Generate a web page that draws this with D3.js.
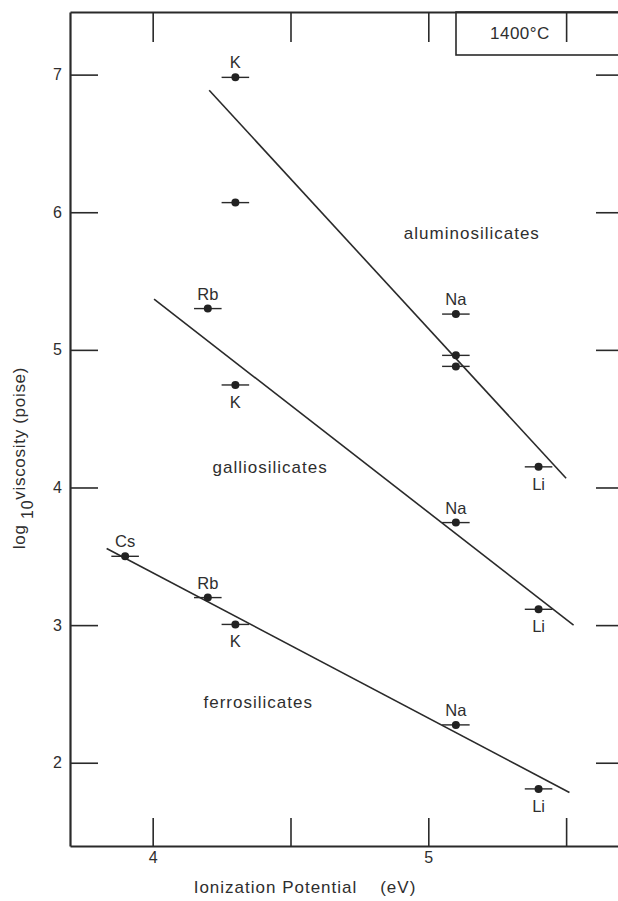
<!DOCTYPE html>
<html>
<head>
  <script src="https://d3js.org/d3.v7.min.js"></script>
  <style>
    body {
      margin: 0;
      background-color: #ffffff;
      overflow: hidden;
    }
    text {
      font-family: "Liberation Sans", Arial, Helvetica, sans-serif;
      fill: #2e2e2e;
    }
  </style>
</head>
<body>
  <script>
    // aluminosilicates
    const alX = [4.3, 4.3, 5.1, 5.1, 5.1, 5.4];
    const alY = [6.98, 6.07, 5.26, 4.96, 4.88, 4.15];
    const alNames = ["K", "", "Na", "", "", "Li"];
    const alSide = ["above", "", "above", "", "", "below"];
    const alFitX = [4.205, 5.50];
    const alFitY = [6.886, 4.067];

    // galliosilicates
    const gaX = [4.2, 4.3, 5.1, 5.4];
    const gaY = [5.30, 4.745, 3.745, 3.115];
    const gaNames = ["Rb", "K", "Na", "Li"];
    const gaSide = ["above", "below", "above", "below"];
    const gaFitX = [4.005, 5.527];
    const gaFitY = [5.368, 3.0];

    // ferrosilicates
    const feX = [3.9, 4.2, 4.3, 5.1, 5.4];
    const feY = [3.50, 3.20, 3.005, 2.275, 1.81];
    const feNames = ["Cs", "Rb", "K", "Na", "Li"];
    const feSide = ["above", "above", "below", "above", "below"];
    const feFitX = [3.833, 5.512];
    const feFitY = [3.557, 1.784];

    const xErr = 0.05;
    const xTicks = [4, 4.5, 5, 5.5];
    const xTickLabels = ["4", "", "5", ""];
    const yTicks = [2, 3, 4, 5, 6, 7];

    const seriesLabels = ["aluminosilicates", "galliosilicates", "ferrosilicates"];
    const seriesLabelX = [5.158, 4.426, 4.383];
    const seriesLabelY = [5.851, 4.148, 2.443];

    const width = 618, height = 901;
    const mLeft = 70, mRight = 624, mTop = 12, mBottom = 846;
    const ink = "#2a2a2a";

    const svg = d3.select("body").append("svg")
      .attr("width", width)
      .attr("height", height);

    const x = d3.scaleLinear().domain([3.70, 5.71]).range([mLeft, mRight]);
    const y = d3.scaleLinear().domain([1.395, 7.455]).range([mBottom, mTop]);

    function styleAxis(g, w) {
      g.select(".domain").attr("stroke", ink).attr("stroke-width", w);
      g.selectAll(".tick line").attr("stroke", ink).attr("stroke-width", 1.6);
      g.selectAll(".tick text").attr("fill", "#3a3a3a").style("font-size", "16px")
        .style("font-family", "'Liberation Sans', Arial, sans-serif");
    }

    svg.append("g")
      .attr("transform", `translate(0,${mBottom})`)
      .call(d3.axisBottom(x).tickValues(xTicks).tickSizeInner(-28).tickSizeOuter(0)
        .tickPadding(6).tickFormat((d, i) => xTickLabels[i]))
      .call(g => styleAxis(g, 2.2));

    svg.append("g")
      .attr("transform", `translate(0,${mTop})`)
      .call(d3.axisTop(x).tickValues(xTicks).tickSizeInner(-30).tickSizeOuter(0)
        .tickFormat(""))
      .call(g => styleAxis(g, 2.2));

    svg.append("g")
      .attr("transform", `translate(${mLeft},0)`)
      .call(d3.axisLeft(y).tickValues(yTicks).tickSizeInner(-28).tickSizeOuter(0)
        .tickPadding(8).tickFormat(d3.format("d")))
      .call(g => styleAxis(g, 2.2));

    svg.append("g")
      .attr("transform", `translate(${mRight},0)`)
      .call(d3.axisRight(y).tickValues(yTicks).tickSizeInner(-28).tickSizeOuter(0)
        .tickFormat(""))
      .call(g => styleAxis(g, 2.2));

    // temperature box
    svg.append("rect")
      .attr("x", 456).attr("y", mTop)
      .attr("width", 200).attr("height", 43)
      .attr("fill", "none")
      .attr("stroke", ink)
      .attr("stroke-width", 1.6);
    svg.append("text")
      .attr("x", 490).attr("y", 39)
      .style("font-size", "17px")
      .style("letter-spacing", "0.5px")
      .text("1400°C");

    // fit lines
    const fits = [[alFitX, alFitY], [gaFitX, gaFitY], [feFitX, feFitY]];
    svg.append("g")
      .selectAll("line")
      .data(fits)
      .enter().append("line")
      .attr("x1", d => x(d[0][0]))
      .attr("y1", d => y(d[1][0]))
      .attr("x2", d => x(d[0][1]))
      .attr("y2", d => y(d[1][1]))
      .attr("stroke", ink)
      .attr("stroke-width", 1.6);

    // points with horizontal error bars and element labels
    const series = [
      [alX, alY, alNames, alSide],
      [gaX, gaY, gaNames, gaSide],
      [feX, feY, feNames, feSide]
    ];
    const points = [];
    series.forEach(([xs, ys, names, sides]) => {
      xs.forEach((v, i) => points.push({ x: v, y: ys[i], name: names[i], side: sides[i] }));
    });

    const pts = svg.append("g");
    pts.selectAll("line")
      .data(points)
      .enter().append("line")
      .attr("x1", d => x(d.x - xErr))
      .attr("x2", d => x(d.x + xErr))
      .attr("y1", d => y(d.y))
      .attr("y2", d => y(d.y))
      .attr("stroke", ink)
      .attr("stroke-width", 1.4);

    pts.selectAll("circle")
      .data(points)
      .enter().append("circle")
      .attr("cx", d => x(d.x))
      .attr("cy", d => y(d.y))
      .attr("r", 4)
      .attr("fill", "#222");

    pts.selectAll("text")
      .data(points.filter(d => d.name))
      .enter().append("text")
      .attr("x", d => x(d.x))
      .attr("y", d => y(d.y) + (d.side === "above" ? -9 : 23))
      .attr("text-anchor", "middle")
      .style("font-size", "16.5px")
      .text(d => d.name);

    // series names
    svg.append("g")
      .selectAll("text")
      .data(seriesLabels)
      .enter().append("text")
      .attr("x", (d, i) => x(seriesLabelX[i]))
      .attr("y", (d, i) => y(seriesLabelY[i]))
      .attr("dy", "0.35em")
      .attr("text-anchor", "middle")
      .style("font-size", "17px")
      .style("letter-spacing", "1px")
      .text(d => d);

    // axis titles
    svg.append("text")
      .attr("x", 305).attr("y", 893)
      .attr("text-anchor", "middle")
      .style("font-size", "17px")
      .style("letter-spacing", "1px")
      .attr("xml:space", "preserve")
      .text("Ionization Potential    (eV)");

    const yt = svg.append("text")
      .attr("transform", "translate(25,458) rotate(-90)")
      .attr("text-anchor", "middle")
      .style("font-size", "17px")
      .style("letter-spacing", "0.7px");
    yt.append("tspan").text("log ");
    yt.append("tspan").attr("dy", 8).style("font-size", "16px").text("10");
    yt.append("tspan").attr("dy", -8).text("viscosity (poise)");
  </script>
</body>
</html>
